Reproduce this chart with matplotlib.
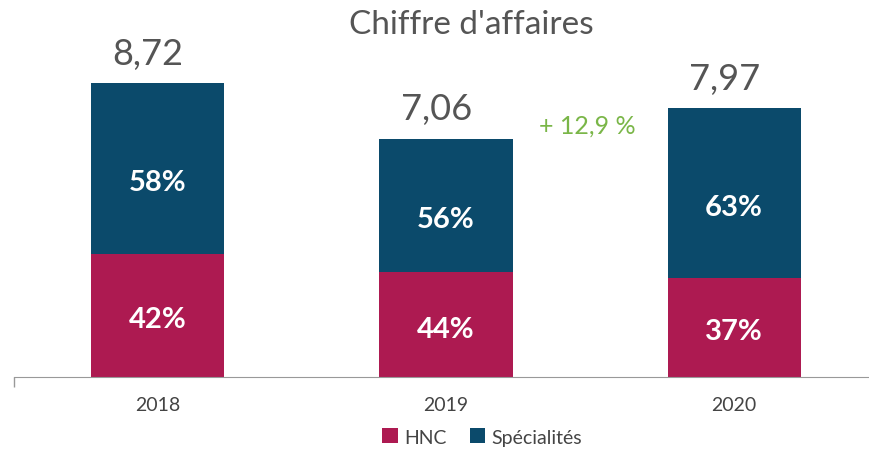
import matplotlib.pyplot as plt

plt.rcParams['font.family'] = ['Lato', 'DejaVu Sans']

years = ["2018", "2019", "2020"]
totals = [8.72, 7.06, 7.97]
hnc_pct = [42, 44, 37]
spec_pct = [58, 56, 63]
total_labels = ["8,72", "7,06", "7,97"]
growth_label = "+ 12,9 %"

hnc_col = "#AD1A51"
spec_col = "#0B4A6B"
grey = "#555555"

hnc = [t * p / 100 for t, p in zip(totals, hnc_pct)]
spec = [t - h for t, h in zip(totals, hnc)]
x = list(range(len(years)))

fig = plt.figure(figsize=(8.7, 4.52), dpi=100)
ax = fig.add_axes([0.016, 0.1637, 0.984, 0.8363])

w = 0.462
b1 = ax.bar(x, hnc, w, color=hnc_col, label="HNC")
b2 = ax.bar(x, spec, w, bottom=hnc, color=spec_col, label="Spécialités")

for i in x:
    ax.annotate(f"{hnc_pct[i]}%", (i, hnc[i] / 2), xytext=(0, -3),
                textcoords="offset points", ha="center", va="center",
                color="white", fontsize=21, fontweight="bold")
    ax.annotate(f"{spec_pct[i]}%", (i, hnc[i] + spec[i] / 2), xytext=(0, -10),
                textcoords="offset points", ha="center", va="center",
                color="white", fontsize=21, fontweight="bold")
    ax.annotate(total_labels[i], (i, totals[i]), xytext=(-7, 14),
                textcoords="offset points", ha="center", va="baseline",
                fontsize=26, color=grey)

# growth between 2019 and 2020
ax.annotate(growth_label, (1.5, totals[1]), xytext=(-2, 10),
            textcoords="offset points", ha="center", va="center",
            fontsize=18, color="#7AB648")

ax.set_xlim(-0.5, 2.472)
ax.set_ylim(0, 11.21)
ax.set_xticks(x)
ax.set_xticklabels(years, fontsize=14, color="#444444")
ax.tick_params(axis="x", length=0, pad=14)
ax.set_xticks([-0.5], minor=True)
ax.tick_params(axis="x", which="minor", length=7, color="#999999", width=1)
ax.set_yticks([])
for s in ["top", "right", "left"]:
    ax.spines[s].set_visible(False)
ax.spines["bottom"].set_color("#999999")

fig.text(0.542, 0.925, "Chiffre d'affaires", ha="center", va="baseline",
         fontsize=24, color=grey)

fig.legend(handles=[b1, b2], loc="center", bbox_to_anchor=(0.554, 0.031),
           ncol=2, frameon=False, fontsize=14, handlelength=0.8,
           handleheight=0.8, handletextpad=0.3, columnspacing=1.2,
           labelcolor="#444444")

fig.savefig("out.png", dpi=100)
